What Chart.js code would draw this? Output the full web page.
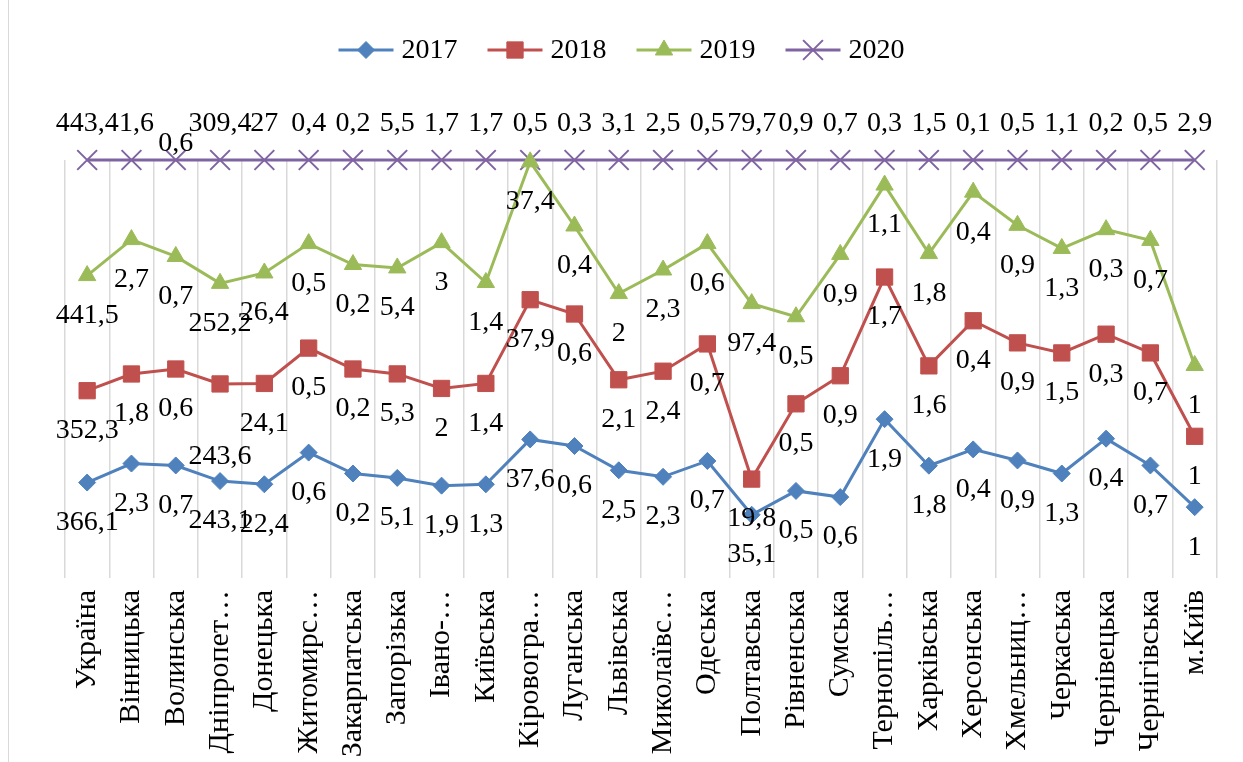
<!DOCTYPE html>
<html>
<head>
<meta charset="utf-8">
<script src="https://cdn.jsdelivr.net/npm/chart.js@4/dist/chart.umd.min.js"></script>
<style>
html,body{margin:0;padding:0;background:#fff;}
#wrap{position:relative;width:1243px;height:762px;overflow:hidden;}
</style>
</head>
<body>
<div id="wrap"><canvas id="c" width="1243" height="762"></canvas></div>
<script>
const categories = ["Україна","Вінницька","Волинська","Дніпропет…","Донецька","Житомирс…","Закарпатська","Запорізька","Івано-…","Київська","Кіровогра…","Луганська","Львівська","Миколаївс…","Одеська","Полтавська","Рівненська","Сумська","Тернопіль…","Харківська","Херсонська","Хмельниц…","Черкаська","Чернівецька","Чернігівська","м.Київ"];
const seriesNames = ["2017","2018","2019","2020"];
const v2017 = [366.1,2.3,0.7,243.1,22.4,0.6,0.2,5.1,1.9,1.3,37.6,0.6,2.5,2.3,0.7,35.1,0.5,0.6,1.9,1.8,0.4,0.9,1.3,0.4,0.7,1];
const v2018 = [352.3,1.8,0.6,243.6,24.1,0.5,0.2,5.3,2,1.4,37.9,0.6,2.1,2.4,0.7,19.8,0.5,0.9,1.7,1.6,0.4,0.9,1.5,0.3,0.7,1];
const v2019 = [441.5,2.7,0.7,252.2,26.4,0.5,0.2,5.4,3,1.4,37.4,0.4,2,2.3,0.6,97.4,0.5,0.9,1.1,1.8,0.4,0.9,1.3,0.3,0.7,1];
const v2020 = [443.4,1.6,0.6,309.4,27,0.4,0.2,5.5,1.7,1.7,0.5,0.3,3.1,2.5,0.5,79.7,0.9,0.7,0.3,1.5,0.1,0.5,1.1,0.2,0.5,2.9];

const raw = [v2017, v2018, v2019, v2020];
const colors = ["#4F81BD","#C0504D","#9BBB59","#8064A2"];
const styles = ["rectRot","rect","triangle","crossRot"];
const radii = [8.5, 11.5, 10, 14];

// 100% stacked line: cumulative share of each category total
const totals = categories.map((_, i) => raw.reduce((s, arr) => s + arr[i], 0));
const stacked = raw.map((arr, k) => categories.map((_, i) => {
  let cum = 0;
  for (let j = 0; j <= k; j++) cum += raw[j][i];
  return cum / totals[i] * 100;
}));

const FONT = '"Liberation Serif", "Times New Roman", serif';
const fmt = v => String(v).replace('.', ',');

// label nudges (series index -> category index -> [dx, dy]) to avoid overlaps, as in the original
const labelNudge = { 3: { 1: [5, 0], 2: [0, 20] }, 1: { 3: [0, 33] } };

const datasets = seriesNames.map((name, k) => ({
  label: name,
  data: stacked[k],
  values: raw[k],
  borderColor: colors[k],
  backgroundColor: colors[k],
  borderWidth: 3,
  pointStyle: styles[k],
  pointRadius: radii[k],
  pointBorderWidth: k === 3 ? 2 : 1,
  pointBorderColor: colors[k],
  pointBackgroundColor: colors[k],
  tension: 0,
  clip: false
}));

const frame = {
  id: 'frame',
  beforeDraw(chart) {
    const ctx = chart.ctx;
    ctx.save();
    ctx.strokeStyle = '#d9d9d9';
    ctx.lineWidth = 1;
    ctx.beginPath();
    ctx.moveTo(8.5, 0); ctx.lineTo(8.5, 762);
    ctx.stroke();
    ctx.restore();
  }
};

const legendPlugin = {
  id: 'customLegend',
  afterDraw(chart) {
    const ctx = chart.ctx;
    const h = Chart.helpers;
    ctx.save();
    ctx.font = '28px ' + FONT;
    ctx.textBaseline = 'middle';
    const lineW = 55, gap = 8, itemGap = 30, y = 50;
    const widths = seriesNames.map(n => lineW + gap + ctx.measureText(n).width);
    const total = widths.reduce((a, b) => a + b, 0) + itemGap * (seriesNames.length - 1);
    let x = (chart.width - total) / 2;
    seriesNames.forEach((n, k) => {
      ctx.strokeStyle = colors[k];
      ctx.fillStyle = colors[k];
      ctx.lineWidth = 3;
      ctx.beginPath();
      ctx.moveTo(x, y); ctx.lineTo(x + lineW, y);
      ctx.stroke();
      ctx.lineWidth = k === 3 ? 2 : 1;
      h.drawPoint(ctx, { pointStyle: styles[k], radius: radii[k], borderWidth: k === 3 ? 2 : 1, rotation: 0 }, x + lineW / 2, y);
      ctx.font = '28px ' + FONT;
      ctx.fillStyle = '#000';
      ctx.textAlign = 'left';
      ctx.fillText(n, x + lineW + gap, y + 1);
      x += widths[k] + itemGap;
    });
    ctx.restore();
  }
};

const valueLabels = {
  id: 'valueLabels',
  afterDatasetsDraw(chart) {
    const ctx = chart.ctx;
    ctx.save();
    ctx.font = '28px ' + FONT;
    ctx.fillStyle = '#000';
    ctx.textAlign = 'center';
    ctx.textBaseline = 'middle';
    chart.data.datasets.forEach((ds, di) => {
      const meta = chart.getDatasetMeta(di);
      meta.data.forEach((pt, i) => {
        const dy = di === 3 ? -36 : 40;
        const n = (labelNudge[di] && labelNudge[di][i]) || [0, 0];
        ctx.fillText(fmt(ds.values[i]), pt.x + n[0], pt.y + dy + n[1]);
      });
    });
    ctx.restore();
  }
};

new Chart(document.getElementById('c'), {
  type: 'line',
  data: { labels: categories, datasets },
  options: {
    responsive: false,
    animation: false,
    events: [],
    layout: { padding: { left: 65, right: 16, top: 160, bottom: 0 } },
    plugins: {
      legend: { display: false },
      tooltip: { enabled: false },
      title: { display: false }
    },
    scales: {
      x: {
        type: 'category',
        offset: true,
        grid: { offset: true, color: '#d9d9d9', lineWidth: 1.5, drawTicks: false },
        border: { display: false },
        ticks: {
          autoSkip: false,
          minRotation: 90,
          maxRotation: 90,
          padding: 12,
          color: '#000',
          font: { family: FONT, size: 30 }
        },
        afterFit(scale) { scale.height = 184; }
      },
      y: { display: false, min: 0, max: 100 }
    }
  },
  plugins: [frame, legendPlugin, valueLabels]
});
</script>
</body>
</html>
